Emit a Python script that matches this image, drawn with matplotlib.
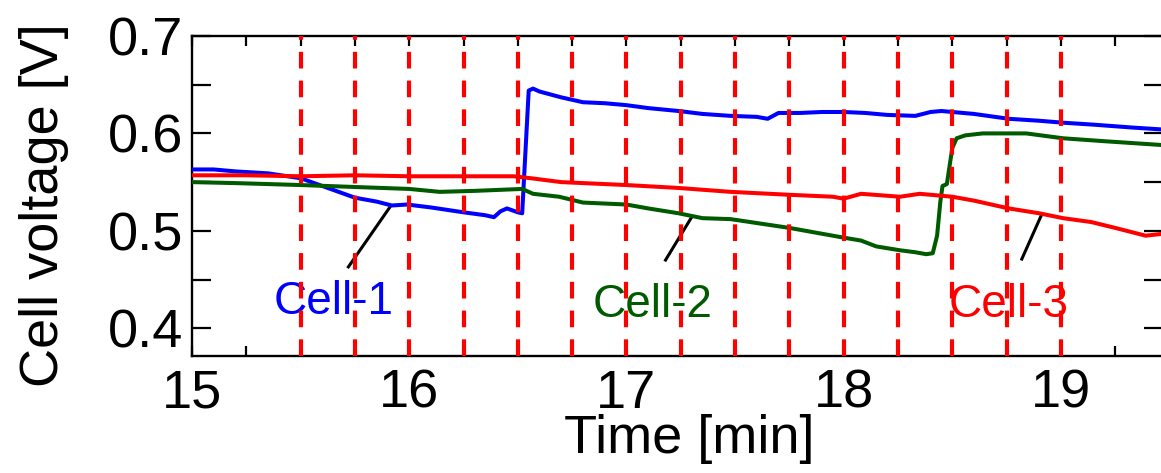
import matplotlib.pyplot as plt
import numpy as np

plt.rcParams['font.family'] = ['Liberation Sans', 'DejaVu Sans']

# Cell-1 (blue)
t1 = [15.0, 15.1, 15.2, 15.35, 15.5, 15.6, 15.75, 15.85, 15.92, 15.99, 16.1, 16.25,
      16.35, 16.39, 16.42, 16.45, 16.5, 16.52, 16.55, 16.57, 16.6, 16.65, 16.7, 16.8,
      16.9, 17.0, 17.1, 17.24, 17.35, 17.48, 17.6, 17.65, 17.7, 17.8, 17.9, 18.0,
      18.1, 18.2, 18.33, 18.4, 18.45, 18.5, 18.6, 18.76, 18.9, 19.01, 19.15, 19.33, 19.47]
v1 = [0.563, 0.563, 0.561, 0.559, 0.554, 0.546, 0.534, 0.530, 0.526, 0.527, 0.524, 0.519,
      0.516, 0.514, 0.520, 0.523, 0.519, 0.518, 0.644, 0.646, 0.643, 0.640, 0.637, 0.632,
      0.631, 0.629, 0.626, 0.623, 0.620, 0.618, 0.617, 0.615, 0.621, 0.621, 0.622, 0.622,
      0.621, 0.619, 0.618, 0.622, 0.623, 0.622, 0.620, 0.615, 0.613, 0.611, 0.609, 0.606, 0.604]

# Cell-2 (green)
t2 = [15.0, 15.2, 15.5, 15.75, 16.0, 16.14, 16.3, 16.52, 16.57, 16.69, 16.8, 17.0,
      17.1, 17.24, 17.35, 17.48, 17.6, 17.75, 17.9, 18.0, 18.08, 18.15, 18.26, 18.33,
      18.38, 18.41, 18.43, 18.445, 18.455, 18.475, 18.5, 18.52, 18.56, 18.64, 18.84,
      19.01, 19.2, 19.47]
v2 = [0.550, 0.549, 0.547, 0.545, 0.543, 0.540, 0.541, 0.543, 0.538, 0.535, 0.529, 0.527,
      0.523, 0.518, 0.513, 0.512, 0.508, 0.503, 0.497, 0.493, 0.490, 0.484, 0.480, 0.478,
      0.476, 0.477, 0.495, 0.530, 0.546, 0.548, 0.585, 0.595, 0.598, 0.600, 0.600,
      0.595, 0.592, 0.588]

# Cell-3 (red)
t3 = [15.0, 15.25, 15.5, 15.75, 16.0, 16.25, 16.48, 16.56, 16.7, 16.8, 17.0, 17.24,
      17.48, 17.75, 17.95, 18.0, 18.08, 18.26, 18.35, 18.5, 18.6, 18.76, 18.9, 19.01,
      19.14, 19.25, 19.39, 19.47]
v3 = [0.557, 0.557, 0.556, 0.557, 0.556, 0.556, 0.556, 0.554, 0.550, 0.549, 0.547, 0.544,
      0.540, 0.537, 0.535, 0.533, 0.538, 0.535, 0.538, 0.535, 0.531, 0.523, 0.518, 0.513,
      0.509, 0.503, 0.495, 0.497]

switch_times = [15.5, 15.75, 16.0, 16.25, 16.5, 16.75, 17.0, 17.25, 17.5, 17.75,
                18.0, 18.25, 18.5, 18.75, 19.0]

labels = ['Cell-1', 'Cell-2', 'Cell-3']
colors = ['#0000ff', '#005a00', '#ff0000']
# annotation: (line start on curve, line end, text position)
ann_xy = [(15.91, 0.524), (17.30, 0.514), (18.91, 0.516)]
ann_end = [(15.72, 0.463), (17.18, 0.470), (18.82, 0.471)]
text_xy = [(15.65, 0.427), (17.12, 0.424), (18.76, 0.424)]

fig = plt.figure(figsize=(11.61, 4.73), dpi=100)
ax = fig.add_axes([192/1161, 117/473, 971/1161, 320/473])

for t, v, c in zip([t1, t2, t3], [v1, v2, v3], colors):
    ax.plot(t, v, color=c, lw=2.9, zorder=3)

for i in range(3):
    ax.plot([ann_xy[i][0], ann_end[i][0]], [ann_xy[i][1], ann_end[i][1]],
            color='black', lw=2.2, zorder=2)
    ax.text(text_xy[i][0], text_xy[i][1], labels[i], color=colors[i],
            fontsize=33, ha='center', va='center', zorder=2)

for s in switch_times:
    ax.axvline(s, color='#ff0000', lw=3, dashes=(4, 2.9), zorder=4)

ax.set_xlim(15, 19.47)
ax.set_ylim(0.3715, 0.7)
ax.set_xticks([15, 16, 17, 18, 19])
ax.set_xticks(np.arange(15, 19.5, 0.25), minor=True)
ax.set_yticks([0.4, 0.5, 0.6, 0.7])
ax.set_yticks([0.45, 0.55, 0.65], minor=True)
ax.set_yticklabels(['0.4', '0.5', '0.6', '0.7'])

ax.tick_params(axis='both', which='both', direction='in', width=1.6,
               top=True, right=True, labelsize=39)
ax.tick_params(axis='x', which='both', length=7, pad=9)
ax.tick_params(axis='y', which='both', length=14, pad=6)
for sp in ax.spines.values():
    sp.set_linewidth(1.7)

ax.set_xlabel('Time [min]', fontsize=39, va='center', ha='center')
ax.set_ylabel('Cell voltage [V]', fontsize=39, va='center', ha='center')
ax.xaxis.set_label_coords(0.512, -0.26)
ax.yaxis.set_label_coords(-0.152, 0.47)

fig.savefig('out.png', dpi=100)
